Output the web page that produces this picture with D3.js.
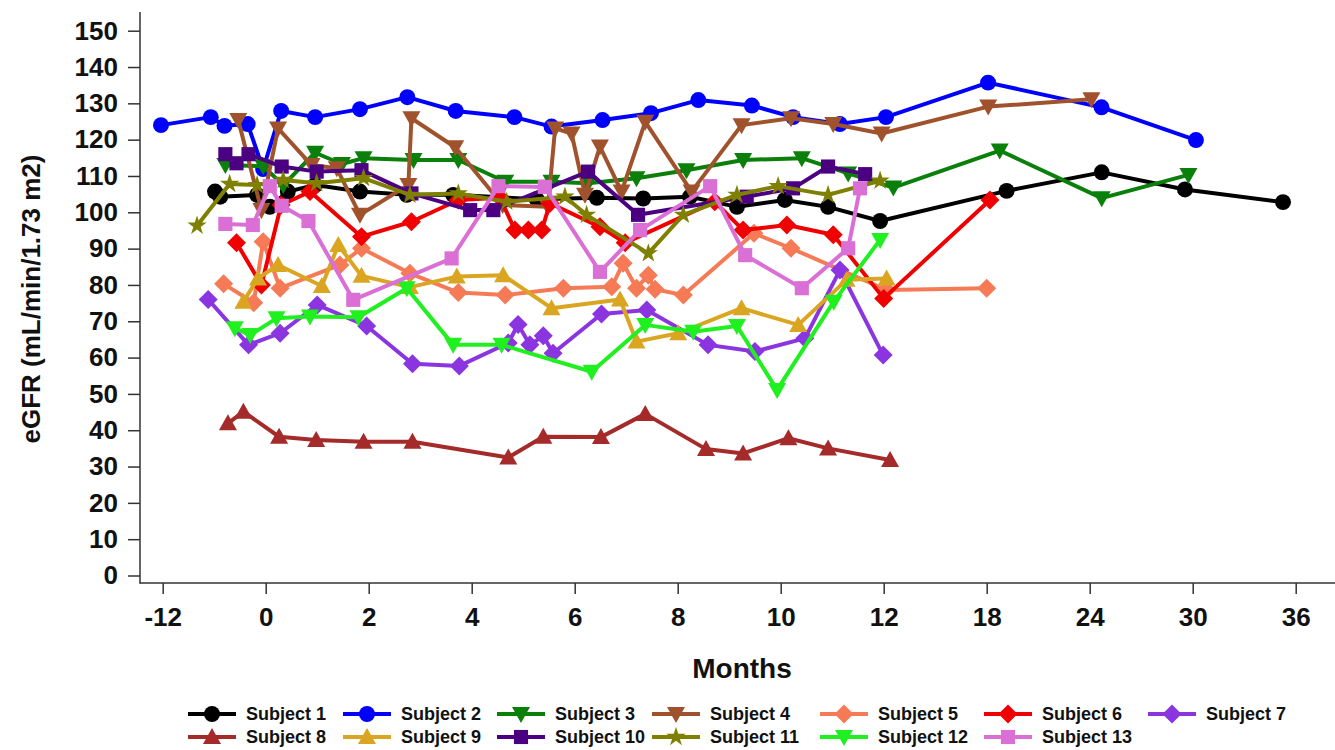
<!DOCTYPE html>
<html>
<head>
<meta charset="utf-8">
<script src="https://cdn.jsdelivr.net/npm/d3@7"></script>
<style>
body { margin: 0; background: #fff; }
text { font-family: "Liberation Sans", Arial, sans-serif; font-weight: bold; fill: #111; }
</style>
</head>
<body>
<svg width="1335" height="750"></svg>
<script>
// tick labels of the month axis (evenly spaced on screen)
var xTicks = [-12, 0, 2, 4, 6, 8, 10, 12, 18, 24, 30, 36];
var yTicks = d3.range(0, 151, 10);

var subjects = ["Subject 1", "Subject 2", "Subject 3", "Subject 4", "Subject 5", "Subject 6", "Subject 7",
                "Subject 8", "Subject 9", "Subject 10", "Subject 11", "Subject 12", "Subject 13"];
var colors = ["#000000", "#0000ff", "#0a800a", "#a0522d", "#f57a55", "#f00000", "#8a35e0",
              "#a52a2a", "#daa520", "#4b0082", "#808000", "#20f020", "#da70d6"];
var shapes = ["circle", "circle", "down", "down", "diamond", "diamond", "diamond",
              "up", "up", "square", "star", "down", "square"];

var s1Months = [-5.9, -5.3, -1.0, 0.08, 0.43, 0.96, 1.83, 2.74, 3.64, 5.26, 6.43, 7.33, 8.24, 9.15, 10.08, 10.92, 11.93, 19.16, 24.7, 29.55, 35.26];
var s1Values = [105.7, 104.3, 104.8, 101.5, 105.7, 107.5, 105.7, 104.8, 104.8, 103.6, 104.0, 103.8, 104.3, 101.5, 103.4, 101.5, 97.6, 105.9, 111.0, 106.3, 102.8];

var s2Months = [-12.2, -6.4, -4.8, -2.1, -0.3, 0.3, 0.96, 1.83, 2.75, 3.69, 4.83, 5.55, 6.54, 7.48, 8.40, 9.44, 10.24, 11.15, 12.13, 18.08, 24.69, 30.19];
var s2Values = [124.0, 126.2, 123.8, 124.3, 111.9, 127.9, 126.2, 128.4, 131.7, 127.9, 126.2, 123.6, 125.4, 127.3, 130.9, 129.4, 126.2, 124.3, 126.2, 135.7, 128.9, 119.9];

var s3Months = [-4.7, -0.3, 0.34, 0.96, 1.48, 1.9, 2.87, 3.74, 4.65, 5.55, 6.26, 7.2, 8.17, 9.27, 10.41, 11.31, 12.56, 18.76, 24.7, 29.75];
var s3Values = [113.0, 112.7, 107.5, 116.4, 113.3, 114.9, 114.4, 114.4, 108.4, 108.4, 108.0, 109.4, 111.6, 114.4, 114.9, 110.7, 106.8, 117.0, 103.9, 110.3];

var s4Months = [-3.2, -0.5, 0.24, 0.89, 1.38, 1.83, 2.77, 2.83, 3.68, 4.6, 5.48, 5.62, 5.94, 6.2, 6.49, 6.91, 7.37, 8.27, 9.24, 10.2, 11.02, 11.96, 18.09, 24.1];
var s4Values = [125.4, 100.6, 123.1, 113.0, 112.1, 99.3, 107.5, 125.9, 117.9, 102.0, 101.5, 123.1, 121.7, 104.8, 118.1, 105.7, 124.9, 105.7, 124.0, 125.9, 124.3, 121.7, 129.1, 131.1];

var s5Months = [-4.9, -1.4, -0.3, 0.28, 1.44, 1.86, 2.8, 3.74, 4.65, 5.78, 6.72, 6.94, 7.2, 7.43, 7.56, 8.11, 9.48, 10.2, 12.17, 18.0];
var s5Values = [80.3, 75.1, 91.9, 79.1, 85.5, 90.1, 83.2, 77.9, 77.2, 79.1, 79.5, 86.0, 79.1, 82.7, 78.8, 77.2, 94.2, 90.1, 78.6, 79.1];

var s6Months = [-3.4, -0.5, 0.3, 0.86, 1.86, 2.83, 3.74, 4.55, 4.84, 5.1, 5.36, 5.52, 6.49, 6.98, 8.72, 9.27, 10.12, 11.02, 12.0, 18.19];
var s6Values = [91.6, 80.0, 102.0, 105.7, 93.3, 97.4, 103.4, 104.0, 95.1, 95.1, 95.1, 102.5, 96.0, 91.6, 102.9, 95.1, 96.5, 93.8, 76.3, 103.4];

var s7Months = [-6.7, -2.0, 0.28, 1.0, 1.96, 2.85, 3.76, 4.71, 4.9, 5.13, 5.39, 5.58, 6.52, 7.4, 8.59, 9.5, 10.47, 11.15, 11.99];
var s7Values = [76.0, 63.5, 66.7, 74.5, 68.7, 58.3, 57.7, 64.0, 69.1, 63.5, 66.0, 61.2, 72.0, 73.1, 63.5, 61.7, 65.3, 84.1, 60.7];

var s8Months = [-4.4, -2.6, 0.26, 0.98, 1.9, 2.85, 4.71, 5.39, 6.51, 7.37, 8.55, 9.27, 10.15, 10.92, 12.37];
var s8Values = [41.9, 45.1, 38.2, 37.3, 36.8, 36.8, 32.5, 38.2, 38.1, 44.5, 34.8, 33.6, 37.8, 35.0, 31.8];

var s9Months = [-2.6, -0.9, 0.24, 1.09, 1.41, 1.86, 2.8, 3.71, 4.61, 5.55, 6.88, 7.2, 8.01, 9.24, 10.34, 11.28, 12.17];
var s9Values = [75.4, 81.8, 85.5, 79.7, 91.0, 82.5, 79.4, 82.3, 82.7, 73.6, 76.0, 64.4, 66.7, 73.6, 69.0, 81.4, 81.8];

var s10Months = [-4.7, -3.4, -2.0, 0.31, 0.99, 1.86, 2.83, 3.97, 4.42, 6.26, 7.23, 9.34, 10.24, 10.92, 11.64];
var s10Values = [116.0, 113.5, 116.0, 112.6, 111.2, 111.6, 105.2, 100.6, 100.6, 111.2, 99.3, 104.3, 106.6, 112.6, 110.5];

var s11Months = [-8.0, -4.2, -1.0, 0.34, 0.99, 1.9, 2.8, 3.74, 4.68, 5.81, 6.23, 7.43, 8.11, 9.15, 9.95, 10.92, 11.93];
var s11Values = [96.3, 107.8, 107.5, 108.9, 108.0, 109.4, 104.8, 105.2, 102.9, 104.3, 99.3, 88.7, 99.3, 104.8, 107.2, 104.8, 108.7];

var s12Months = [-3.6, -1.8, 0.21, 0.86, 1.8, 2.74, 3.64, 4.58, 6.33, 7.37, 8.3, 9.15, 9.93, 11.03, 11.93];
var s12Values = [68.1, 66.2, 70.8, 71.3, 71.1, 79.1, 63.5, 63.5, 56.1, 69.0, 67.1, 68.7, 51.1, 75.4, 92.4];

var s13Months = [-4.7, -1.5, 0.08, 0.31, 0.83, 1.7, 3.61, 4.52, 5.42, 6.49, 7.27, 8.63, 9.31, 10.41, 11.31, 11.54];
var s13Values = [96.8, 96.5, 107.2, 101.8, 97.6, 75.9, 87.3, 107.2, 107.0, 83.6, 95.1, 107.2, 88.2, 79.1, 90.1, 106.6];

var allMonths = [s1Months, s2Months, s3Months, s4Months, s5Months, s6Months, s7Months,
                 s8Months, s9Months, s10Months, s11Months, s12Months, s13Months];
var allValues = [s1Values, s2Values, s3Values, s4Values, s5Values, s6Values, s7Values,
                 s8Values, s9Values, s10Values, s11Values, s12Values, s13Values];

var series = subjects.map(function(name, i) {
    return {
        name: name, color: colors[i], shape: shapes[i],
        points: allMonths[i].map(function(m, j) { return {month: m, value: allValues[i][j]}; })
    };
});

var svg = d3.select("svg");

// month axis: ticks are equally spaced, so the scale is piecewise linear
var x = d3.scaleLinear()
    .domain(xTicks)
    .range(xTicks.map(function(d, i) { return 162.7 + i * 103; }));

var y = d3.scaleLinear()
    .domain([0, 150])
    .range([575.5, 30.7]);

var axisColor = "#333";

// y axis
var gy = svg.append("g")
    .attr("transform", "translate(140,0)")
    .call(d3.axisLeft(y).tickValues(yTicks).tickSize(12).tickPadding(10));
gy.select(".domain").remove();
gy.selectAll(".tick line").attr("stroke", axisColor).attr("stroke-width", 1.5);
gy.selectAll(".tick text").style("font-size", "26px").attr("fill", "#111");
svg.append("line").attr("x1", 140).attr("x2", 140).attr("y1", 12).attr("y2", 583.5)
    .attr("stroke", axisColor).attr("stroke-width", 1.5);

// x axis
var gx = svg.append("g")
    .attr("transform", "translate(0,583)")
    .call(d3.axisBottom(x).tickValues(xTicks).tickFormat(String).tickSize(11).tickPadding(14));
gx.select(".domain").remove();
gx.selectAll(".tick line").attr("stroke", axisColor).attr("stroke-width", 1.5);
gx.selectAll(".tick text").style("font-size", "26px").attr("fill", "#111");
svg.append("line").attr("x1", 139.5).attr("x2", 1335).attr("y1", 583).attr("y2", 583)
    .attr("stroke", axisColor).attr("stroke-width", 1.5);

// titles
svg.append("text")
    .attr("x", 742).attr("y", 678)
    .attr("text-anchor", "middle")
    .style("font-size", "28px")
    .text("Months");

svg.append("text")
    .attr("transform", "translate(40,299) rotate(-90)")
    .attr("text-anchor", "middle")
    .style("font-size", "26px")
    .text("eGFR (mL/min/1.73 m2)");

// marker paths
function markerPath(shape) {
    if (shape == "circle") return d3.symbol(d3.symbolCircle, 200)();
    if (shape == "square") return d3.symbol(d3.symbolSquare, 200)();
    if (shape == "star") return d3.symbol(d3.symbolStar, 115)();
    if (shape == "up") return "M0,-9L9,7L-9,7Z";
    if (shape == "down") return "M0,9L9,-7L-9,-7Z";
    if (shape == "diamond") return "M0,-9.5L9.5,0L0,9.5L-9.5,0Z";
}

var line = d3.line()
    .x(function(d) { return x(d.month); })
    .y(function(d) { return y(d.value); });

var plot = svg.append("g");

series.forEach(function(s) {
    var g = plot.append("g");
    g.append("path")
        .datum(s.points)
        .attr("fill", "none")
        .attr("stroke", s.color)
        .attr("stroke-width", 4)
        .attr("stroke-linejoin", "round")
        .attr("d", line);
    g.selectAll(".pt")
        .data(s.points)
        .enter().append("path")
        .attr("class", "pt")
        .attr("transform", function(d) { return "translate(" + x(d.month) + "," + y(d.value) + ")"; })
        .attr("d", markerPath(s.shape))
        .attr("fill", s.color);
});

// legend
var legendCols = [188, 343, 497, 652, 820, 984, 1148];
var legend = svg.append("g");
series.forEach(function(s, i) {
    var row = i < 7 ? 0 : 1;
    var col = i < 7 ? i : i - 7;
    var g = legend.append("g")
        .attr("transform", "translate(" + legendCols[col] + "," + (714 + row * 23) + ")");
    g.append("line").attr("x1", 0).attr("x2", 48).attr("y1", 0).attr("y2", 0)
        .attr("stroke", s.color).attr("stroke-width", 4);
    g.append("path").attr("transform", "translate(24,0)")
        .attr("d", markerPath(s.shape)).attr("fill", s.color);
    g.append("text").attr("x", 58).attr("y", 0).attr("dy", "0.35em")
        .style("font-size", "18px")
        .text(s.name);
});
</script>
</body>
</html>
